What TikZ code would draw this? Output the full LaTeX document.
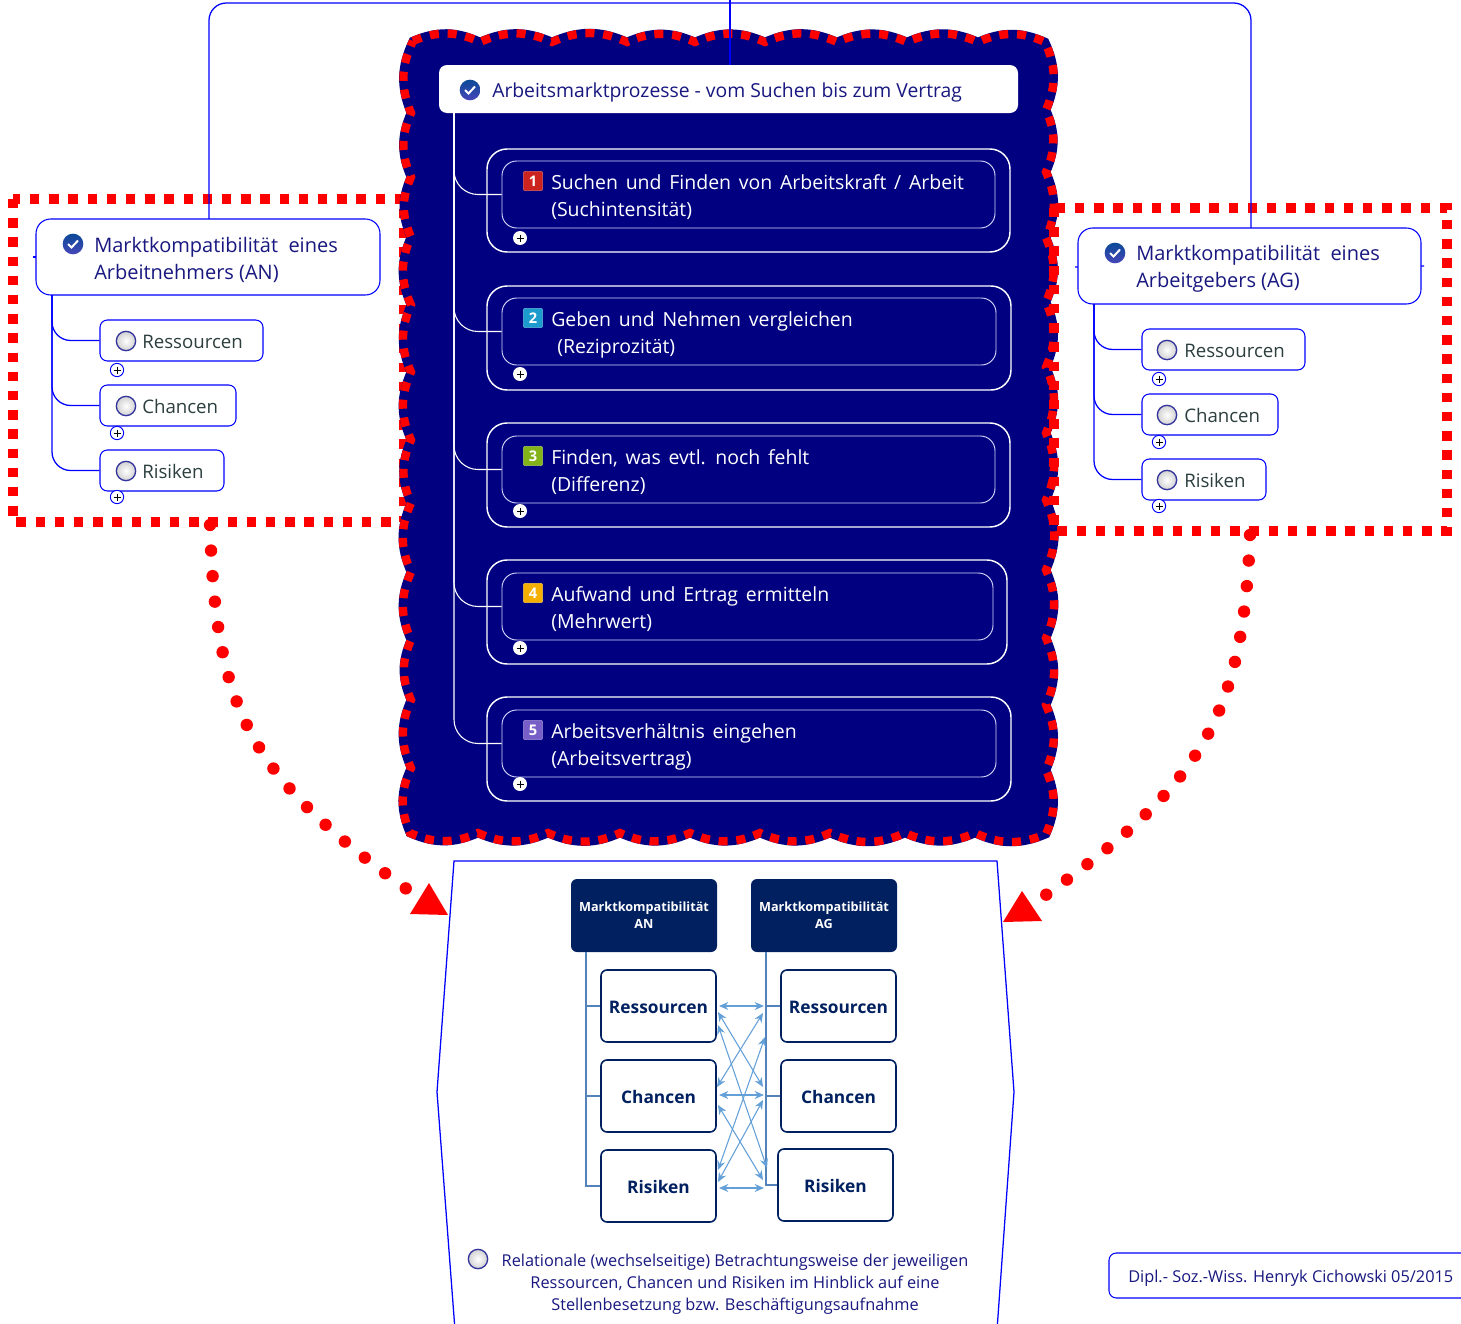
\documentclass[tikz,border=0pt]{standalone}
\usepackage{fontspec}
\setmainfont{Open Sans}
\usetikzlibrary{fit,arrows.meta}

\definecolor{blobnavy}{RGB}{0,0,128}
\definecolor{titleblue}{RGB}{24,24,128}
\definecolor{subgrey}{RGB}{44,62,62}
\definecolor{headnavy}{RGB}{0,32,96}
\definecolor{trunkblue}{RGB}{84,130,186}
\definecolor{arrowblue}{RGB}{100,160,216}
\definecolor{numred}{RGB}{205,35,30}
\definecolor{numblue}{RGB}{30,155,205}
\definecolor{numgreen}{RGB}{130,180,25}
\definecolor{numorange}{RGB}{245,175,0}
\definecolor{numviolet}{RGB}{120,95,200}

\newcommand{\widespaces}{\spaceskip=0.4em\relax}

\tikzset{
  bluecon/.style={draw=blue,line width=0.95pt},
  whitecon/.style={draw=white,line width=0.8pt},
  wave/.style={bend left=24},
  blob/.style={fill=blobnavy,draw=red,line width=6.2pt,dash pattern=on 6.8pt off 6.6pt,
    preaction={draw=blobnavy,line width=6.4pt,solid}},
  reddash/.style={draw=red,line width=7pt,dash pattern=on 7pt off 7.4pt},
  reddots/.style={draw=red,line width=9.3pt,line cap=round,dash pattern=on 0pt off 19.2pt},
  topicbox/.style={draw=blue,line width=0.8pt,rounded corners=11pt,inner sep=0pt,fill=white},
  subbox/.style={draw=blue,line width=0.8pt,rounded corners=5.5pt,inner sep=0pt,fill=white},
  outerbox/.style={draw=white,line width=1.1pt,rounded corners=15pt,inner sep=0pt},
  innerbox/.style={draw=white!85!blue,line width=0.7pt,rounded corners=11pt,inner sep=0pt},
  toptext/.style={anchor=west,align=left,inner sep=0pt,text=titleblue,font=\fontsize{15}{20.25}\selectfont},
  stepwhite/.style={anchor=west,align=left,inner sep=0pt,text=white,font=\fontsize{14.6}{20.25}\selectfont},
  subtext/.style={anchor=west,inner sep=0pt,text=subgrey,font=\fontsize{14}{17}\selectfont},
  radio/.style={circle,inner sep=0pt,minimum size=14.5pt,draw=black!30!blue!60!gray,line width=1pt,
    inner color=white,outer color=black!18},
  checkicon/.style={circle,inner sep=0pt,minimum size=15.5pt,top color=numblue!40!headnavy!90!blue,bottom color=blue!45!gray,
    path picture={\draw[white,line width=1.5pt] (path picture bounding box.center) ++(-5,0) -- ++(3.5,3.5) -- ++(6.5,-7);}},
  numicon/.style={draw=#1!70!white,fill=#1,rounded corners=1.5pt,inner sep=0pt,minimum size=14.5pt,
    text=white,font=\fontsize{11}{12}\bfseries\selectfont},
  plusmark/.style={circle,inner sep=0pt,fill=white,minimum size=#1,
    path picture={\draw[black,line width=0.6pt] (path picture bounding box.center) ++(-3.5,0) -- ++(7,0)
      (path picture bounding box.center) ++(0,-3.5) -- ++(0,7);}},
  subplus/.style={plusmark=10pt,draw=blue,line width=0.7pt},
  headbox/.style={fill=headnavy,rounded corners=4.5pt,inner sep=0pt},
  headtext/.style={align=center,inner sep=0pt,text=white,font=\fontsize{9.5}{12.7}\bfseries\selectfont},
  linkbox/.style={draw=headnavy,fill=white,line width=1.2pt,rounded corners=4.5pt,inner sep=0pt},
  linktext/.style={inner sep=0pt,text=headnavy,font=\fontsize{13}{16}\bfseries\selectfont},
  trunk/.style={draw=trunkblue,line width=1.1pt},
  linkarrow/.style={draw=arrowblue,line width=0.8pt,{Stealth[length=7pt,width=6pt]}-{Stealth[length=7pt,width=6pt]}},
}

\begin{document}
\begin{tikzpicture}[x=0.75pt,y=-0.75pt]
\useasboundingbox (0,0) rectangle (1461,1324);

% red frame under the big area
\draw[reddash] (13,199) rectangle (404,522);

% big area in the middle
\path[blob] (413,41)
  foreach \x in {480,552,627,695,765,837,907,978,1045} {to[wave] (\x,42)}
  foreach \y in {110,172,238,302,367,433,500,570,638,705,770,834} {to[wave] (1046,\y)}
  foreach \x in {975,905,830,760,690,620,548,478,410} {to[wave] (\x,833)}
  foreach \y in {768,700,640,572,503,440,372,305,237,177,113} {to[wave] (411,\y)}
  to[wave] (413,41) -- cycle;

% red frame over it
\draw[reddash] (1054,208) rectangle (1447,531);

% dotted arrows
\coordinate (ANfoot) at (210,525);
\coordinate (ANtip) at (408,890);
\coordinate (AGfoot) at (1250,535);
\coordinate (AGtip) at (1043,897);
\draw[reddots] (ANfoot) .. controls (216,710) and (248,775) .. (ANtip);
\draw[reddots] (AGfoot) .. controls (1243,720) and (1200,785) .. (AGtip);
\fill[red] (429,883)--(448,915)--(410,914)--cycle;
\fill[red] (1022,891)--(1042,921)--(1003,922)--cycle;

% connectors on top
\coordinate (ANtop) at (209,219);
\coordinate (AGtop) at (1251,228);
\coordinate (Ttop) at (730,65);
\coordinate (Tstub) at (730,0);
\draw[bluecon,rounded corners=13pt] (ANtop) -- (209,3) -- (1251,3) -- (AGtop);
\draw[bluecon] (Tstub) -- (Ttop);

% title
\node[fill=white,rounded corners=6pt,inner sep=0pt,fit={(439,65)(1018,113)}] (T) {};
\node[checkicon] (Tc) at (470,90) {};
\node[toptext,font=\fontsize{14.5}{20.25}\selectfont] (Tt) at (492,92.5) {Arbeitsmarktprozesse - vom Suchen bis zum Vertrag};

% steps
\node[outerbox,fit={(487,149)(1010,252)}] (O1) {};
\node[innerbox,fit={(502,161)(995,228)}] (I1) {};
\node[outerbox,fit={(487,286)(1011,390)}] (O2) {};
\node[innerbox,fit={(502,298)(996,365)}] (I2) {};
\node[outerbox,fit={(487,423)(1010,527)}] (O3) {};
\node[innerbox,fit={(502,436)(995,503)}] (I3) {};
\node[outerbox,fit={(487,560)(1007,664)}] (O4) {};
\node[innerbox,fit={(502,573)(993,640)}] (I4) {};
\node[outerbox,fit={(487,697)(1011,801)}] (O5) {};
\node[innerbox,fit={(502,710)(996,777)}] (I5) {};

\coordinate (Ttrunk) at (454,113);
\draw[whitecon,rounded corners=18pt] (Ttrunk) |- (I1.west);
\draw[whitecon,rounded corners=18pt] (Ttrunk) |- (I2.west);
\draw[whitecon,rounded corners=18pt] (Ttrunk) |- (I3.west);
\draw[whitecon,rounded corners=18pt] (Ttrunk) |- (I4.west);
\draw[whitecon,rounded corners=18pt] (Ttrunk) |- (I5.west);

\node[numicon=numred] (N1) at (533,181) {1};
\node[numicon=numblue] (N2) at (533,318) {2};
\node[numicon=numgreen] (N3) at (533,456) {3};
\node[numicon=numorange] (N4) at (533,593) {4};
\node[numicon=numviolet] (N5) at (533,730) {5};

\node[stepwhite] (S1) at (551,197.5) {\widespaces Suchen und Finden von Arbeitskraft / Arbeit\\(Suchintensität)};
\node[stepwhite] (S2) at (551,334.5) {\widespaces Geben und Nehmen vergleichen\\\hspace*{4.5pt}(Reziprozität)};
\node[stepwhite] (S3) at (551,472.5) {\widespaces Finden, was evtl. noch fehlt\\(Differenz)};
\node[stepwhite] (S4) at (551,609.5) {\widespaces Aufwand und Ertrag ermitteln\\(Mehrwert)};
\node[stepwhite] (S5) at (551,746.5) {\widespaces Arbeitsverhältnis eingehen\\(Arbeitsvertrag)};

\node[plusmark=10.5pt] (P1) at (520,238) {};
\node[plusmark=10.5pt] (P2) at (520,374) {};
\node[plusmark=10.5pt] (P3) at (520,511) {};
\node[plusmark=10.5pt] (P4) at (520,648) {};
\node[plusmark=10.5pt] (P5) at (520,784) {};

% left topic
\coordinate (ANtick) at (33,257);
\draw[bluecon] (ANtick) -- (36,257);
\node[topicbox,fit={(36,219)(380,295)}] (AN) {};
\node[checkicon] (ANc) at (73,244) {};
\node[toptext] (ANt) at (94,260) {Marktkompatibilität\ \ eines\\Arbeitnehmers (AN)};
\node[subbox,fit={(100,320)(263,361)}] (ANr) {};
\node[subbox,fit={(100,385)(236,426)}] (ANh) {};
\node[subbox,fit={(100,450)(224,491)}] (ANk) {};
\coordinate (ANtrunk) at (52,295);
\draw[bluecon,rounded corners=14pt] (ANtrunk) |- (ANr.west);
\draw[bluecon,rounded corners=14pt] (ANtrunk) |- (ANh.west);
\draw[bluecon,rounded corners=14pt] (ANtrunk) |- (ANk.west);
\node[radio] (ANr1) at (126,341) {};
\node[radio] (ANh1) at (126,406) {};
\node[radio] (ANk1) at (126,471) {};
\node[subtext] (ANr2) at (142,342) {Ressourcen};
\node[subtext] (ANh2) at (142,406) {Chancen};
\node[subtext] (ANk2) at (142,471) {Risiken};
\node[subplus] (ANr3) at (117,370) {};
\node[subplus] (ANh3) at (117,433) {};
\node[subplus] (ANk3) at (117,497) {};

% right topic
\coordinate (AGtick) at (1075,267);
\coordinate (AGtack) at (1424,266);
\draw[bluecon] (AGtick) -- (AGtack);
\node[topicbox,fit={(1078,228)(1421,304)}] (AG) {};
\node[checkicon] (AGc) at (1115,253) {};
\node[toptext] (AGt) at (1136,269) {Marktkompatibilität\ \ eines\\Arbeitgebers (AG)};
\node[subbox,fit={(1142,329)(1305,370)}] (AGr) {};
\node[subbox,fit={(1142,394)(1278,435)}] (AGh) {};
\node[subbox,fit={(1142,459)(1266,500)}] (AGk) {};
\coordinate (AGtrunk) at (1094,304);
\draw[bluecon,rounded corners=14pt] (AGtrunk) |- (AGr.west);
\draw[bluecon,rounded corners=14pt] (AGtrunk) |- (AGh.west);
\draw[bluecon,rounded corners=14pt] (AGtrunk) |- (AGk.west);
\node[radio] (AGr1) at (1167,350) {};
\node[radio] (AGh1) at (1167,415) {};
\node[radio] (AGk1) at (1167,480) {};
\node[subtext] (AGr2) at (1184,351) {Ressourcen};
\node[subtext] (AGh2) at (1184,415) {Chancen};
\node[subtext] (AGk2) at (1184,480) {Risiken};
\node[subplus] (AGr3) at (1159,379) {};
\node[subplus] (AGh3) at (1159,442) {};
\node[subplus] (AGk3) at (1159,506) {};

% lower shape
\draw[bluecon] (455,1330)--(437,1092)--(454,861)--(997,861)--(1014,1092)--(997,1330);

\node[headbox,fit={(571,879)(717,952)}] (HN) {};
\node[headtext] (HNt) at (644,915.5) {Marktkompatibilität\\AN};
\node[headbox,fit={(751,879)(897,952)}] (HG) {};
\node[headtext] (HGt) at (824,915.5) {Marktkompatibilität\\AG};

\node[linkbox,fit={(601,970)(716,1042)}] (Lr) {};
\node[linkbox,fit={(601,1060)(716,1132)}] (Lh) {};
\node[linkbox,fit={(601,1150)(716,1222)}] (Lk) {};
\node[linkbox,fit={(781,970)(896,1042)}] (Rr) {};
\node[linkbox,fit={(781,1060)(896,1132)}] (Rh) {};
\node[linkbox,fit={(778,1149)(893,1221)}] (Rk) {};
\node[linktext] (Lrt) at (658.5,1007) {Ressourcen};
\node[linktext] (Lht) at (658.5,1097) {Chancen};
\node[linktext] (Lkt) at (658.5,1187) {Risiken};
\node[linktext] (Rrt) at (838.5,1007) {Ressourcen};
\node[linktext] (Rht) at (838.5,1097) {Chancen};
\node[linktext] (Rkt) at (835.5,1186) {Risiken};

\coordinate (Ltrunk) at (586,952);
\coordinate (Rtrunk) at (766,952);
\draw[trunk] (Ltrunk) |- (Lr.west);
\draw[trunk] (Ltrunk) |- (Lh.west);
\draw[trunk] (Ltrunk) |- (Lk.west);
\draw[trunk] (Rtrunk) |- (Rr.west);
\draw[trunk] (Rtrunk) |- (Rh.west);
\draw[trunk] (Rtrunk) |- (Rk.west);

\coordinate (a1) at (719,1006);
\coordinate (b1) at (764,1006);
\coordinate (a2) at (719,1095);
\coordinate (b2) at (764,1095);
\coordinate (a3) at (719,1188);
\coordinate (b3) at (764,1188);
\coordinate (a4) at (718,1012);
\coordinate (b4) at (763,1087);
\coordinate (a5) at (718,1025);
\coordinate (b5) at (767,1168);
\coordinate (a6) at (717,1087);
\coordinate (b6) at (763,1013);
\coordinate (a7) at (718,1105);
\coordinate (b7) at (763,1180);
\coordinate (a8) at (718,1170);
\coordinate (b8) at (765,1037);
\coordinate (a9) at (718,1182);
\coordinate (b9) at (763,1100);
\draw[linkarrow] (a1)--(b1);
\draw[linkarrow] (a2)--(b2);
\draw[linkarrow] (a3)--(b3);
\draw[linkarrow] (a4)--(b4);
\draw[linkarrow] (a5)--(b5);
\draw[linkarrow] (a6)--(b6);
\draw[linkarrow] (a7)--(b7);
\draw[linkarrow] (a8)--(b8);
\draw[linkarrow] (a9)--(b9);

\node[radio] (Br) at (478,1259) {};
\node[align=center,inner sep=0pt,text=titleblue,font=\fontsize{12.25}{16.5}\selectfont] (Bt) at (735,1284) {Relationale (wechselseitige) Betrachtungsweise der jeweiligen\\Ressourcen, Chancen und Risiken im Hinblick auf eine\\Stellenbesetzung bzw. Beschäftigungsaufnahme};

% footer
\node[subbox,fit={(1109,1253)(1490,1298)}] (F) {};
\node[inner sep=0pt,anchor=west,text=titleblue,font=\fontsize{12.25}{14}\selectfont] (Ft) at (1128,1278) {Dipl.- Soz.-Wiss. Henryk Cichowski 05/2015};
\end{tikzpicture}
\end{document}
